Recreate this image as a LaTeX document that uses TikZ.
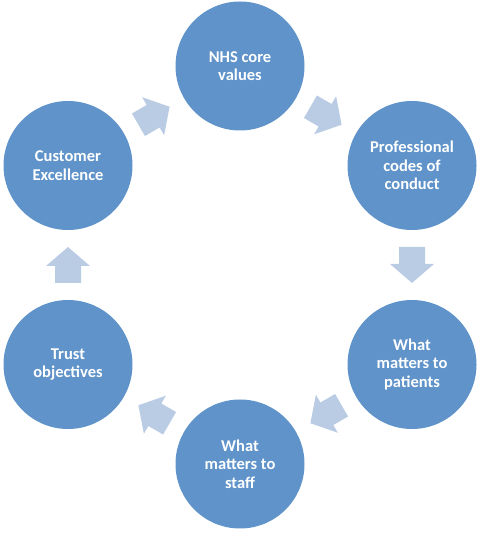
\documentclass[tikz,border=0pt]{standalone}
\usepackage{fontspec}
\setmainfont{Carlito}
\usetikzlibrary{calc}
\definecolor{circblue}{RGB}{95,147,201}
\definecolor{arrowblue}{RGB}{186,204,228}
\tikzset{
  circ/.style={circle, fill=circblue, minimum size=129pt, inner sep=0pt,
    text=white, align=center, font=\fontsize{16.5}{18.5}\selectfont\bfseries},
  blockarrow/.pic={\fill[arrowblue] (-18,-13) -- (-1,-13) -- (-1,-22) -- (18,0) -- (-1,22) -- (-1,13) -- (-18,13) -- cycle;}
}
\begin{document}
\begin{tikzpicture}[x=1pt,y=1pt]
\useasboundingbox (0,0) rectangle (480,543);
\node[circ] (nhs)   at (240,477) {NHS core\\values};
\node[circ] (prof)  at (412,377.5) {Professional\\codes of\\conduct};
\node[circ] (pat)   at (412,178.5) {What\\matters to\\patients};
\node[circ] (staff) at (240,79) {What\\matters to\\staff};
\node[circ] (trust) at (68,178.5) {Trust\\objectives};
\node[circ] (cust)  at (68,377.5) {Customer\\Excellence};
\pic[rotate=30]  at ($(cust)!0.5!(nhs)$) {blockarrow};
\pic[rotate=-30] at ($(nhs)!0.5!(prof)$) {blockarrow};
\pic[rotate=-90] at ($(prof)!0.5!(pat)$) {blockarrow};
\pic[rotate=210] at ($(pat)!0.5!(staff)$) {blockarrow};
\pic[rotate=150] at ($(staff)!0.5!(trust)$) {blockarrow};
\pic[rotate=90]  at ($(trust)!0.5!(cust)$) {blockarrow};
\end{tikzpicture}
\end{document}
